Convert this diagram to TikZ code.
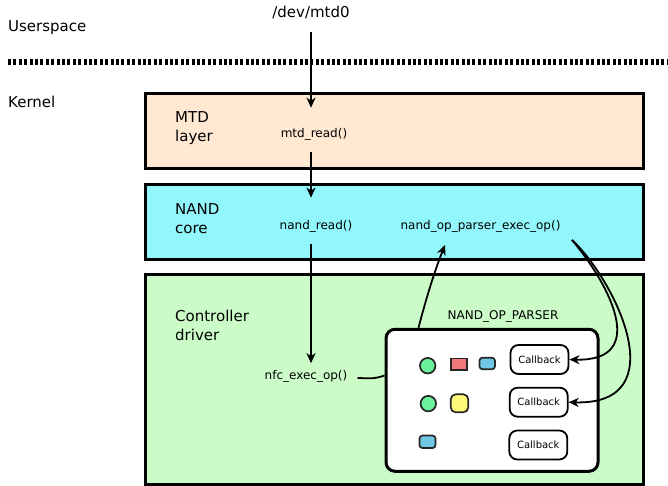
\documentclass[tikz,border=0pt]{standalone}
\usepackage{fontspec}
\setmainfont{DejaVu Sans}
\usetikzlibrary{arrows.meta,calc}
\definecolor{mtdfill}{RGB}{255,233,211}
\definecolor{nandfill}{RGB}{146,247,252}
\definecolor{ctrlfill}{RGB}{203,252,200}
\definecolor{opgreen}{RGB}{108,240,156}
\definecolor{opred}{RGB}{240,120,120}
\definecolor{opblue}{RGB}{112,200,228}
\definecolor{opyellow}{RGB}{255,248,120}
\begin{document}
\begin{tikzpicture}[x=1pt,y=-1pt,
  layerbox/.style={draw=black, line width=3pt, rectangle, inner sep=0pt, minimum width=498pt},
  big/.style={font=\fontsize{15}{19.2}\selectfont, inner sep=0pt},
  small/.style={font=\fontsize{12}{14}\selectfont, inner sep=0pt},
  cbbox/.style={draw=black, line width=1.8pt, rounded corners=8pt, fill=white, minimum width=58pt, minimum height=29pt, inner sep=0pt, font=\fontsize{10}{12}\selectfont},
  token/.style={draw=black!85, line width=1.7pt, inner sep=0pt},
  conn/.style={line width=1.8pt, -{Stealth[length=10pt,width=9pt,inset=3pt]}},
  plain/.style={line width=1.8pt},
  sep/.style={line width=6pt, dash pattern=on 3pt off 2.4pt}
]
\useasboundingbox (0,0) rectangle (668,486);

% layer boxes
\node[layerbox, fill=mtdfill, minimum height=75pt] (mtd) at (394,131.1) {};
\node[layerbox, fill=nandfill, minimum height=75pt] (nand) at (394,222) {};
\node[layerbox, fill=ctrlfill, minimum height=209.8pt] (ctrl) at (394,379.6) {};

% userspace / kernel separator
\coordinate (sepL) at (8,62.5);
\coordinate (sepR) at (668,62.5);
\draw[sep] (sepL) -- (sepR);

\node[big, anchor=base west] (us) at (8,32) {Userspace};
\node[big, anchor=base west] (kern) at (8,108) {Kernel};
\node[big, anchor=base] (dev) at (311,18) {/dev/mtd0};

% layer labels
\node[big, anchor=north west, align=left] (mtdlbl) at (175,111.5) {MTD\\layer};
\node[big, anchor=north west, align=left] (nandlbl) at (175,203) {NAND\\core};
\node[big, anchor=north west, align=left] (ctrllbl) at (175,310) {Controller\\driver};

% functions
\node[small, anchor=base] (mtdread) at (314,138) {mtd\_read()};
\node[small, anchor=base] (nandread) at (316,229) {nand\_read()};
\node[small, anchor=base] (nandop) at (480.5,229) {nand\_op\_parser\_exec\_op()};
\node[small, anchor=base] (nfc) at (306,379.5) {nfc\_exec\_op()};

% parser
\node[small, anchor=base] (parserlbl) at (503,319) {NAND\_OP\_PARSER};
\node[draw=black, line width=3pt, rounded corners=9pt, fill=white, minimum width=212pt, minimum height=142pt, inner sep=0pt] (parser) at (492,400.3) {};

\node[cbbox] (cb1) at (539.5,359.5) {Callback};
\node[cbbox] (cb2) at (538.7,402.2) {Callback};
\node[cbbox] (cb3) at (538.3,445) {Callback};

\node[token, circle, fill=opgreen, minimum size=15.5pt] (g1) at (427.7,365.7) {};
\node[token, rectangle, fill=opred, minimum width=15.5pt, minimum height=11.5pt] (r1) at (458.9,364.2) {};
\node[token, rectangle, rounded corners=3pt, fill=opblue, minimum width=15.5pt, minimum height=11.5pt] (b1) at (487.2,363.5) {};
\node[token, circle, fill=opgreen, minimum size=15.5pt] (g2) at (428.3,403.6) {};
\node[token, rectangle, rounded corners=5pt, fill=opyellow, minimum width=17.5pt, minimum height=18pt] (y2) at (459.5,403.3) {};
\node[token, rectangle, rounded corners=3pt, fill=opblue, minimum width=16pt, minimum height=12.5pt] (b3) at (427.5,441.8) {};

% connectors
\draw[conn, shorten <=12pt, shorten >=21pt] (dev.south) -- (dev.south |- mtdread.north);
\draw[conn, shorten <=11pt, shorten >=22pt] (dev.south |- mtdread.south) -- (dev.south |- nandread.north);
\draw[conn, shorten <=12pt, shorten >=7pt] (dev.south |- nandread.south) -- (dev.south |- nfc.north);

\coordinate (nfcout) at ($(nfc.east)+(10,1.5)$);
\draw[plain] (nfcout) .. controls +(15,1) and +(-9,3) .. (parser.west |- 0,375.5);

\coordinate (parserup) at ($(parser.north west)+(34,0)$);
\coordinate (opin) at (445,245);
\draw[conn] (parserup) .. controls +(8,-31) and +(-10,25) .. (opin);

\coordinate (opout) at (572,240);
\draw[conn] (opout) .. controls +(38,45) and +(80,2) .. (cb1.east);
\draw[conn] (opout) .. controls +(43,40) and +(108,3) .. (cb2.east);
\end{tikzpicture}
\end{document}
